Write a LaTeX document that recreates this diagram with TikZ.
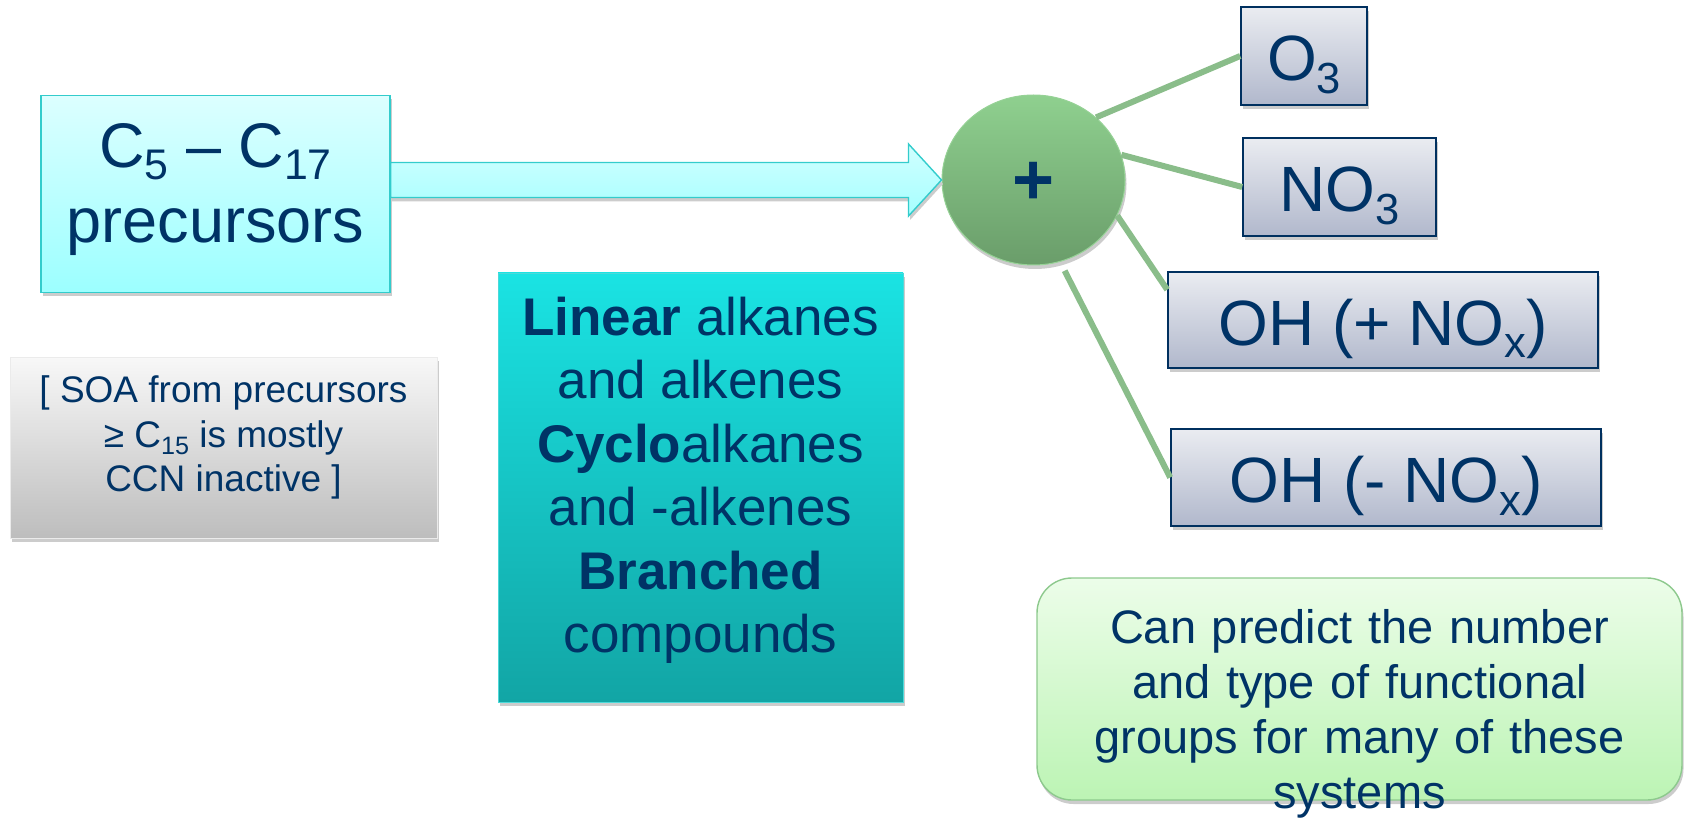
\documentclass[tikz,border=0pt]{standalone}
\usepackage{fontspec}
\setmainfont{Liberation Sans}
\usepackage{graphicx}
\usetikzlibrary{shapes.geometric,shadows}
\definecolor{navy}{RGB}{0,51,102}
\definecolor{pretop}{HTML}{DCFFFF}
\definecolor{prebottom}{HTML}{9CFFFF}
\definecolor{preline}{HTML}{33CCCC}
\definecolor{arrowtop}{HTML}{D0FFFF}
\definecolor{arrowbottom}{HTML}{A6FFFF}
\definecolor{midtop}{HTML}{1AE3E3}
\definecolor{midbottom}{HTML}{12A5A5}
\definecolor{midline}{HTML}{4DD9D9}
\definecolor{plustop}{HTML}{8FD08F}
\definecolor{plusbottom}{HTML}{6A9D6A}
\definecolor{plusline}{HTML}{96D296}
\definecolor{radtop}{HTML}{EAECF1}
\definecolor{radbottom}{HTML}{B1B8CC}
\definecolor{radline}{HTML}{00305F}
\definecolor{soatop}{HTML}{F8F8F8}
\definecolor{soabottom}{HTML}{BDBDBD}
\definecolor{predtop}{HTML}{ECFDE9}
\definecolor{predbottom}{HTML}{BCF4B4}
\definecolor{predline}{HTML}{8DC98D}
\definecolor{linkgreen}{HTML}{8ABD8A}
\newcommand{\lowsub}[1]{\raisebox{-0.2em}{\scalebox{0.68}{#1}}}

\begin{document}
\begin{tikzpicture}[x=1pt,y=-1pt,
        every node/.style={inner sep=0pt,text=navy,align=center},
        boxshadow/.style={drop shadow={shadow xshift=1.5pt,shadow yshift=-4pt,fill=black!20,opacity=1}},
        precbox/.style={boxshadow,draw=preline,line width=1.2pt,top color=pretop,bottom color=prebottom,
                        font=\fontsize{63}{75.6}\selectfont},
        classbox/.style={boxshadow,draw=midline,line width=0.8pt,top color=midtop,bottom color=midbottom,
                        font=\fontsize{53}{63.5}\selectfont},
        notebox/.style={boxshadow,draw=white!92!black,line width=0.8pt,top color=soatop,bottom color=soabottom,
                        font=\fontsize{37}{44.5}\selectfont},
        radbox/.style={boxshadow,draw=radline,line width=1.6pt,top color=radtop,bottom color=radbottom,
                        text height=50pt,text depth=0pt,font=\fontsize{64}{76}\selectfont},
        predbox/.style={boxshadow,draw=predline,line width=1.4pt,rounded corners=35pt,top color=predtop,
                        bottom color=predbottom,font=\fontsize{47}{55}\selectfont},
        link/.style={draw=linkgreen,line width=6pt},
        flowarrow/.style={boxshadow,draw=preline,line width=1.4pt,top color=arrowtop,bottom color=arrowbottom}
    ]
    \useasboundingbox (0,0) rectangle (1684,826);

    \node[precbox,minimum width=349,minimum height=197] (pre) at (215.5,194)
        {C\lowsub{5} – C\lowsub{17}\\precursors\rule[-22pt]{0pt}{1pt}};
    \node[notebox,minimum width=427,minimum height=181] (soa) at (223.5,447.5)
        {[ SOA from precursors\\≥ C\lowsub{15} is mostly\\CCN inactive ]\rule[-27pt]{0pt}{1pt}};
    \node[classbox,minimum width=405,minimum height=429] (class) at (700.5,487.5)
        {\textbf{Linear} alkanes\\and alkenes\\\textbf{Cyclo}alkanes\\and -alkenes\\\textbf{Branched}\\compounds\rule[-25pt]{0pt}{1pt}};

    \node[boxshadow,ellipse,draw=plusline,line width=1pt,top color=plustop,bottom color=plusbottom,
          minimum width=183,minimum height=170,text height=49pt,text depth=0pt,
          font=\bfseries\fontsize{72}{76}\selectfont] (plus) at (1033.5,180) {+};

    \node[radbox,minimum width=126,minimum height=98] (o3) at (1304,56) {O\lowsub{3}};
    \node[radbox,minimum width=193,minimum height=98] (no3) at (1339.5,187) {NO\lowsub{3}};
    \node[radbox,minimum width=430,minimum height=96] (ohplus) at (1383,320) {OH (+ NO\lowsub{x})};
    \node[radbox,minimum width=430,minimum height=97] (ohminus) at (1386,477.5) {OH (- NO\lowsub{x})};

    \node[predbox,minimum width=645,minimum height=222,text width=645,text height=0pt,text depth=92pt]
        (predict) at (1359.5,689)
        {Can predict the number\\and type of functional\\groups for many of these\\systems};

    % Arrow
    \coordinate (tail) at (pre.east |- plus.west);
    \path[flowarrow] ([yshift=17.5pt]tail) -- ([xshift=-33pt,yshift=17.5pt]plus.west)
        -- ([xshift=-33pt,yshift=36pt]plus.west) -- (plus.west)
        -- ([xshift=-33pt,yshift=-36pt]plus.west) -- ([xshift=-33pt,yshift=-17.5pt]plus.west)
        -- ([yshift=-17.5pt]tail) -- cycle;

    % Oxidants
    \draw[link] (plus.45) -- (o3.west);
    \draw[link] (plus.16) -- (no3.west);
    \draw[link] (plus.-23) -- (ohplus.172);
    \draw[link,shorten <=10pt] (plus.-72) -- (ohminus.west);
\end{tikzpicture}
\end{document}
